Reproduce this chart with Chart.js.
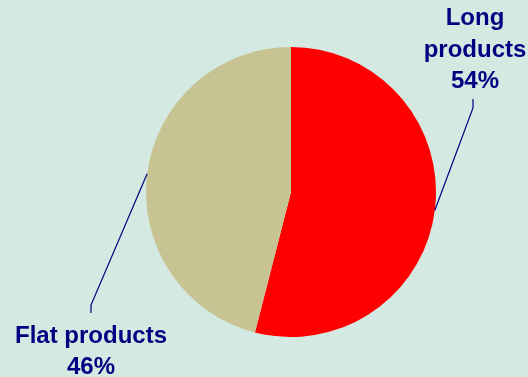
<!DOCTYPE html>
<html>
<head>
<meta charset="utf-8">
<script src="https://cdn.jsdelivr.net/npm/chart.js@4"></script>
<style>
  html, body { margin: 0; padding: 0; background: #d4e9e1; }
  #wrap { width: 528px; height: 377px; position: relative; }
</style>
</head>
<body>
<div id="wrap"><canvas id="pie"></canvas></div>
<script>
const categories = ['Long products', 'Flat products'];
const shares = [54, 46];
const sliceColors = ['#ff0000', '#c7c393'];

// label text placement and the elbow of each leader line
const labelSpots = [
    { x: 475, lines: [18, 50, 81], elbow: [473, 108], tip: [473, 99] },
    { x: 91, lines: [336, 367], elbow: [91, 305], tip: [91, 313] },
];

const calloutPlugin = {
    id: 'callouts',
    afterDatasetsDraw(chart) {
        const ctx = chart.ctx;
        const meta = chart.getDatasetMeta(0);
        ctx.save();
        meta.data.forEach((arc, i) => {
            const spot = labelSpots[i];
            const mid = (arc.startAngle + arc.endAngle) / 2;
            const sx = arc.x + Math.cos(mid) * arc.outerRadius;
            const sy = arc.y + Math.sin(mid) * arc.outerRadius;

            ctx.strokeStyle = '#000080';
            ctx.lineWidth = 1.2;
            ctx.beginPath();
            ctx.moveTo(sx, sy);
            ctx.lineTo(spot.elbow[0], spot.elbow[1]);
            ctx.lineTo(spot.tip[0], spot.tip[1]);
            ctx.stroke();

            const words = categories[i].split(' ');
            const texts = spot.lines.length === 3
                ? [words[0], words[1], shares[i] + '%']
                : [categories[i], shares[i] + '%'];
            ctx.fillStyle = '#000080';
            ctx.font = 'bold 24px "Liberation Sans", Arial, sans-serif';
            ctx.textAlign = 'center';
            ctx.textBaseline = 'middle';
            texts.forEach((t, k) => ctx.fillText(t, spot.x, spot.lines[k]));
        });
        ctx.restore();
    }
};

new Chart(document.getElementById('pie'), {
    type: 'pie',
    data: {
        labels: categories,
        datasets: [{
            data: shares,
            backgroundColor: sliceColors,
            borderWidth: 0,
        }],
    },
    options: {
        responsive: true,
        maintainAspectRatio: false,
        animation: false,
        layout: { padding: { top: 47, bottom: 40, left: 146, right: 92 } },
        plugins: {
            legend: { display: false },
            tooltip: { enabled: false },
        },
    },
    plugins: [calloutPlugin],
});
</script>
</body>
</html>
